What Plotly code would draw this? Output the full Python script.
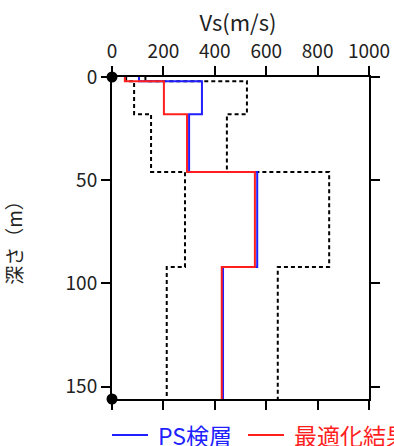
import plotly.graph_objects as go

# layer boundaries (depth, m)
layer_tops = [0, 2, 18, 46, 92]
bottom_depth = 156

# Vs per layer (m/s)
vs_ps = [105, 350, 300, 565, 432]          # PS検層
vs_opt = [50, 202, 292, 556, 427]          # 最適化結果
vs_lower = [55, 86, 152, 284, 213]         # search range lower bound
vs_upper = [130, 525, 447, 845, 645]       # search range upper bound

x_ticks = [0, 200, 400, 600, 800, 1000]
y_ticks = [0, 50, 100, 150]

legend_names = ["PS検層", "最適化結果"]
legend_colors = ["#1f1fff", "#ff1f1f"]

FONT = "Noto Sans CJK JP"

W, H = 394, 446
ML, MR, MT, MB = 112, 25, 77, 47
PX0, PW = ML, W - ML - MR          # plot left, plot width
PY1, PH = H - MB, H - MT - MB      # plot bottom, plot height

def step(vs):
    return vs + [vs[-1]], layer_tops + [bottom_depth]

fig = go.Figure()

for vs in (vs_lower, vs_upper):
    x, y = step(vs)
    fig.add_trace(go.Scatter(x=x, y=y, mode="lines", line_shape="vh",
                             line=dict(color="black", width=2, dash="4px,3px"),
                             showlegend=False, hoverinfo="skip"))

for vs, c in ((vs_ps, legend_colors[0]), (vs_opt, legend_colors[1])):
    x, y = step(vs)
    fig.add_trace(go.Scatter(x=x, y=y, mode="lines", line_shape="vh",
                             line=dict(color=c, width=2),
                             showlegend=False, hoverinfo="skip"))

fig.add_trace(go.Scatter(x=[0, 0], y=[0, bottom_depth], mode="markers",
                         marker=dict(color="black", size=11), cliponaxis=False,
                         showlegend=False, hoverinfo="skip"))

# manual legend (right entry is cut off by the image edge as in the reference)
leg_y = 435
entries_x = [112, 248]
ly = (PY1 - leg_y) / PH
for name, c, x0 in zip(legend_names, legend_colors, entries_x):
    fig.add_shape(type="line", xref="paper", yref="paper",
                  x0=(x0 - PX0) / PW, x1=(x0 + 36 - PX0) / PW,
                  y0=ly, y1=ly, line=dict(color=c, width=2))
    fig.add_annotation(text=name, xref="paper", yref="paper",
                       x=(x0 + 44 - PX0) / PW, y=ly,
                       xanchor="left", yanchor="middle", showarrow=False,
                       font=dict(size=23, color=c))

fig.update_layout(
    width=W, height=H,
    margin=dict(l=ML, r=MR, t=MT, b=MB),
    paper_bgcolor="white", plot_bgcolor="white",
    font=dict(family=FONT, size=19, color="#222"),
    title=dict(text="Vs(m/s)", x=238 / W, xanchor="center", xref="container",
               y=1 - 23 / H, yanchor="middle", font=dict(size=22)),
    showlegend=False,
)

fig.update_xaxes(side="top", range=[0, 1000], tickvals=x_ticks, automargin=False,
                 showline=True, linecolor="black", linewidth=2, mirror="ticks",
                 ticks="outside", ticklen=9, tickwidth=1.5, tickcolor="black",
                 showgrid=False, zeroline=False, tickfont=dict(size=19))
fig.update_yaxes(range=[bottom_depth, 0], tickvals=y_ticks, automargin=False,
                 showline=True, linecolor="black", linewidth=2, mirror="ticks",
                 ticks="outside", ticklen=9, tickwidth=1.5, tickcolor="black",
                 showgrid=False, zeroline=False, tickfont=dict(size=19),
                 title=dict(text="深さ（m）", font=dict(size=19), standoff=55))

fig.write_html("out.html", config={"displayModeBar": False},
               post_script="document.body.style.margin='0';"
                           "document.body.style.overflow='hidden';")
